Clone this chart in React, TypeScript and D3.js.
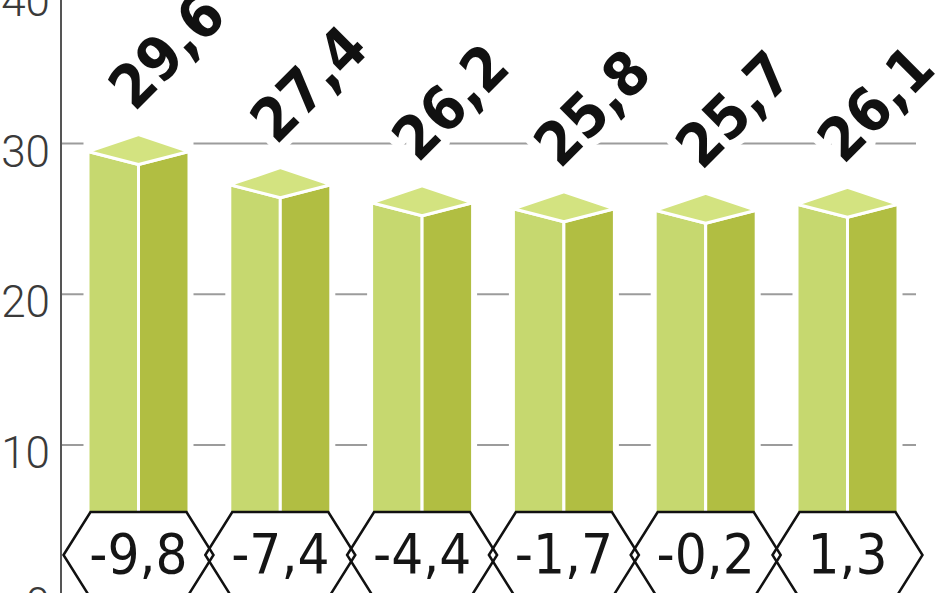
import React from "react";
import * as d3 from "d3";

const values = [29.6, 27.4, 26.2, 25.8, 25.7, 26.1];
const changes = [-9.8, -7.4, -4.4, -1.7, -0.2, 1.3];
const yTicks = [0, 10, 20, 30, 40];

const W = 948;
const H = 593;

const locale = d3.formatLocale({
  decimal: ",",
  thousands: " ",
  grouping: [3],
  currency: ["", ""],
  minus: "-",
});
const fmt1 = locale.format(".1f");
const fmt0 = locale.format("d");

const COND = "'DejaVu Sans Condensed', 'DejaVu Sans', sans-serif";

export default function App() {
  const idx = d3.range(values.length);
  const x = d3.scalePoint<number>().domain(idx).range([138.5, 847.5]);
  const y = d3.scaleLinear().domain([0, 40]).range([595.75, -7.25]);

  const hw = 50.5;
  const rise = 17;
  const drop = 13;
  const bottom = y(0) + 10;

  const hexCy = 555;
  const hexHH = 43;
  const hexTop = 48;
  const hexPt = 75;

  const line = d3.line();

  const hexPath = (cx: number) =>
    line([
      [cx - hexPt, hexCy],
      [cx - hexTop, hexCy - hexHH],
      [cx + hexTop, hexCy - hexHH],
      [cx + hexPt, hexCy],
      [cx + hexTop, hexCy + hexHH],
      [cx - hexTop, hexCy + hexHH],
    ]) + "Z";

  return (
    <svg
      width={W}
      height={H}
      viewBox={`0 0 ${W} ${H}`}
      style={{ position: "absolute", left: 0, top: 0, background: "#fff" }}
    >
      {/* gridlines */}
      {yTicks
        .filter((t) => t > 0 && t < 40)
        .map((t) => (
          <line
            key={"g" + t}
            x1={62}
            x2={916}
            y1={y(t)}
            y2={y(t)}
            stroke="#9c9c9c"
            strokeWidth={2}
          />
        ))}
      {/* axis */}
      <line x1={61} x2={61} y1={0} y2={H} stroke="#555" strokeWidth={2} />
      {yTicks.map((t) => (
        <text
          key={"t" + t}
          x={50}
          y={y(t) + 23}
          textAnchor="end"
          fontFamily="Roboto, 'Open Sans', sans-serif"
          fontWeight={300}
          fontSize={44}
          fill="#3a3a3a"
        >
          {fmt0(t)}
        </text>
      ))}
      {/* bars */}
      {values.map((v, i) => {
        const cx = x(i)!;
        const c = y(v) + 2;
        const top = line([
          [cx - hw, c],
          [cx, c - rise],
          [cx + hw, c],
          [cx, c + drop],
        ]) + "Z";
        const left = line([
          [cx - hw, c],
          [cx, c + drop],
          [cx, bottom],
          [cx - hw, bottom],
        ]) + "Z";
        const right = line([
          [cx, c + drop],
          [cx + hw, c],
          [cx + hw, bottom],
          [cx, bottom],
        ]) + "Z";
        return (
          <g key={"b" + i}>
            <rect
              x={cx - hw - 4.5}
              y={c - rise - 4}
              width={2 * hw + 9}
              height={bottom - (c - rise - 4)}
              fill="#fff"
            />
            <path d={left} fill="#c6d86f" stroke="#fff" strokeWidth={3} strokeLinejoin="round" />
            <path d={right} fill="#b1be42" stroke="#fff" strokeWidth={3} strokeLinejoin="round" />
            <path d={top} fill="#d3e380" stroke="#fff" strokeWidth={3} strokeLinejoin="round" />
          </g>
        );
      })}
      {/* hexagons */}
      {changes.map((_, i) => (
        <path key={"hf" + i} d={hexPath(x(i)!)} fill="#fff" />
      ))}
      {changes.map((_, i) => (
        <path
          key={"hs" + i}
          d={hexPath(x(i)!)}
          fill="none"
          stroke="#111"
          strokeWidth={2.5}
          strokeLinejoin="miter"
        />
      ))}
      {changes.map((c, i) => (
        <text
          key={"ht" + i}
          x={x(i)!}
          y={573}
          textAnchor="middle"
          fontFamily={COND}
          fontStretch="condensed"
          fontSize={56}
          fill="#151515"
        >
          {fmt1(c)}
        </text>
      ))}
      {/* value labels */}
      {values.map((v, i) => {
        const cx = x(i)!;
        const c = y(v) + 2;
        return (
          <text
            key={"v" + i}
            transform={`translate(${cx - 4},${c - rise - 22}) rotate(-45)`}
            fontFamily={COND}
            fontStretch="condensed"
            fontWeight="bold"
            fontSize={60}
            fill="#111"
            stroke="#fff"
            strokeWidth={18}
            strokeLinejoin="round"
            style={{ paintOrder: "stroke" }}
          >
            {fmt1(v)}
          </text>
        );
      })}
    </svg>
  );
}
